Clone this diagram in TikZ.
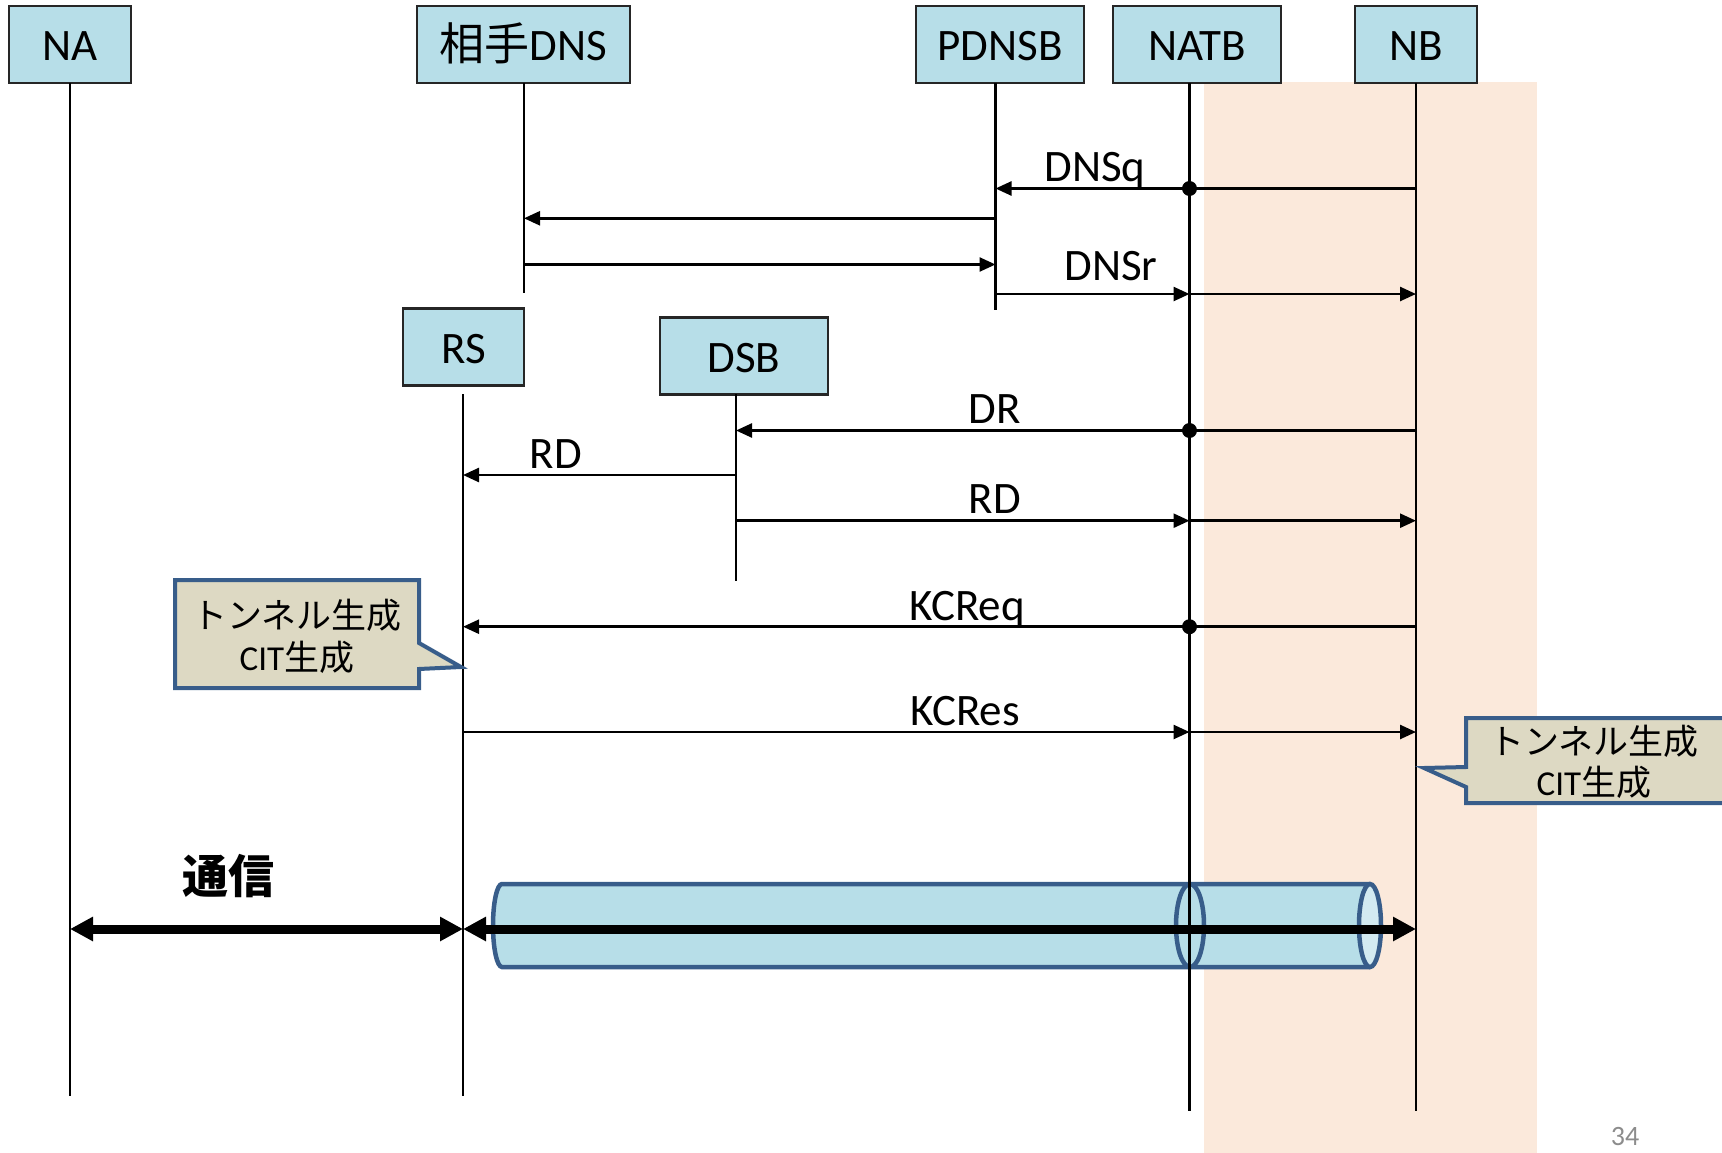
\documentclass[tikz,border=0pt]{standalone}
\usepackage{fontspec}
\setmainfont{Carlito}
\newfontfamily\cjk{Noto Sans CJK JP}
\usetikzlibrary{arrows.meta}
\definecolor{boxblue}{HTML}{B7DEE8}
\definecolor{peach}{HTML}{FBE9DB}
\definecolor{tanfill}{HTML}{DDD9C3}
\definecolor{edgeblue}{HTML}{385D8A}
\definecolor{tunnelin}{HTML}{D3EAF1}
\definecolor{pagegray}{HTML}{8C8C8C}
\tikzset{
  actor/.style={draw=black!85, line width=2.5pt, fill=boxblue, minimum height=77pt,
    inner sep=0pt, text height=32pt, text depth=0pt, font=\fontsize{45}{54}\selectfont},
  life/.style={line width=2.5pt},
  msg/.style={line width=2.5pt, -{Triangle[length=16pt,width=14pt]}},
  lbl/.style={anchor=base, inner sep=0pt, font=\fontsize{45}{54}\selectfont},
  dotmark/.style={circle, fill=black, inner sep=0pt, minimum size=15pt},
  big/.style={line width=9pt, {Triangle[length=23pt,width=23pt]}-{Triangle[length=23pt,width=23pt]}},
  callout/.style={fill=tanfill, draw=edgeblue, line width=4pt},
  ctext/.style={anchor=base, inner sep=0pt, font=\fontsize{35}{40}\selectfont},
  tube/.style={draw=edgeblue, line width=4.5pt},
}
\begin{document}
\begin{tikzpicture}[x=1pt,y=-1pt]
\useasboundingbox (0,0) rectangle (1722,1153);
% shaded band
\fill[peach] (1204,82) rectangle (1537,1153);

% actors
\node[actor, minimum width=122pt] (NA) at (70,44.5) {NA};
\node[actor, minimum width=213pt] (DNS) at (523.5,44.5) {{\cjk 相手}DNS};
\node[actor, minimum width=168pt] (PDNSB) at (1000,44.5) {PDNSB};
\node[actor, minimum width=168pt] (NATB) at (1197,44.5) {NATB};
\node[actor, minimum width=122pt] (NB) at (1416,44.5) {NB};
\node[actor, minimum width=121pt] (RS) at (463.5,347) {RS};
\node[actor, minimum width=168pt] (DSB) at (744,356) {DSB};

% lifeline ends
\coordinate (naT) at (70,83);      \coordinate (naB) at (70,1096);
\coordinate (dnT) at (524,83);     \coordinate (dnB) at (524,293);
\coordinate (pdT) at (995.5,83);   \coordinate (pdB) at (995.5,310);
\coordinate (ntT) at (1189.5,83);  \coordinate (ntB) at (1189.5,1111);
\coordinate (nbT) at (1416,83);    \coordinate (nbB) at (1416,1111);
\coordinate (rsT) at (463,394);    \coordinate (rsB) at (463,1096);
\coordinate (dsT) at (736,394);    \coordinate (dsB) at (736,581);

% tunnel
\fill[boxblue] (502,884) rectangle (1370,967);
\fill[boxblue] (502,884) arc[start angle=90,end angle=270,x radius=9pt,y radius=41.5pt] -- cycle;
\draw[tube] (1370,884) -- (502,884) arc[start angle=90,end angle=270,x radius=9pt,y radius=41.5pt] -- (1370,967);
\draw[tube] (1190,925.5) ellipse[x radius=14pt,y radius=41.5pt];
\draw[tube, fill=tunnelin] (1370,925.5) ellipse[x radius=11pt,y radius=41.5pt];

% lifelines
\draw[life] (naT) -- (naB);
\draw[life] (dnT) -- (dnB);
\draw[life] (pdT) -- (pdB);
\draw[life] (ntT) -- (ntB);
\draw[life] (nbT) -- (nbB);
\draw[life] (rsT) -- (rsB);
\draw[life] (dsT) -- (dsB);

% DNSq
\draw[msg] (nbT |- 0,188.5) -- (pdT |- 0,188.5);
\node[dotmark] (d1) at (ntT |- 0,188.5) {};
\node[lbl] (lDNSq) at (1095,182) {DNSq};
% to/from partner DNS
\draw[msg] (pdT |- 0,218.3) -- (dnT |- 0,218.3);
\draw[msg] (dnT |- 0,264.5) -- (pdT |- 0,264.5);
% DNSr
\draw[msg] (pdT |- 0,294) -- (ntT |- 0,294);
\draw[msg] (ntT |- 0,294) -- (nbT |- 0,294);
\node[lbl] (lDNSr) at (1111,280) {DNSr};
% DR
\draw[msg] (nbT |- 0,430.5) -- (dsT |- 0,430.5);
\node[dotmark] (d2) at (ntT |- 0,430.5) {};
\node[lbl] (lDR) at (995,423) {DR};
% RD to RS
\draw[msg] (dsT |- 0,475) -- (rsT |- 0,475);
\node[lbl] (lRD1) at (556,468) {RD};
% RD to NB
\draw[msg] (dsT |- 0,520.7) -- (ntT |- 0,520.7);
\draw[msg] (ntT |- 0,520.7) -- (nbT |- 0,520.7);
\node[lbl] (lRD2) at (995,513) {RD};
% KCReq
\draw[msg] (nbT |- 0,626.7) -- (rsT |- 0,626.7);
\node[dotmark] (d3) at (ntT |- 0,626.7) {};
\node[lbl] (lKCReq) at (967,620) {KCReq};
% KCRes
\draw[msg] (rsT |- 0,732) -- (ntT |- 0,732);
\draw[msg] (ntT |- 0,732) -- (nbT |- 0,732);
\node[lbl] (lKCRes) at (965,725) {KCRes};

% communication arrows
\draw[big] (naT |- 0,929) -- (rsT |- 0,929);
\draw[big] (rsT |- 0,929) -- (nbT |- 0,929);
\node[inner sep=0pt, font=\cjk\bfseries\fontsize{46}{50}\selectfont] (comm) at (228,876) {通信};

% callouts
\draw[callout] (175,580) -- (419,580) -- (419,643) -- (461,667) -- (419,669) -- (419,688) -- (175,688) -- cycle;
\node[ctext] (c1a) at (297,628) {\cjk トンネル生成};
\node[ctext] (c1b) at (297,670) {CIT{\cjk 生成}};
\draw[callout] (1466,718) -- (1740,718) -- (1740,803) -- (1466,803) -- (1466,787) -- (1424,768) -- (1466,767) -- cycle;
\node[ctext] (c2a) at (1594,754) {\cjk トンネル生成};
\node[ctext] (c2b) at (1594,795) {CIT{\cjk 生成}};

% page number
\node[anchor=base, inner sep=0pt, text=pagegray, font=\fontsize{28}{28}\selectfont] (pg) at (1625,1145) {34};
\end{tikzpicture}
\end{document}
